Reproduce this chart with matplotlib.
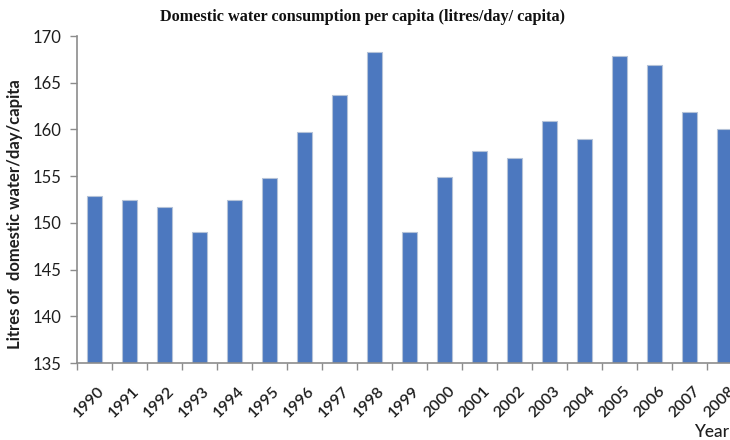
import matplotlib
matplotlib.use("Agg")
import matplotlib.pyplot as plt
import matplotlib.transforms as mtransforms
import numpy as np

years = ["1990", "1991", "1992", "1993", "1994", "1995", "1996", "1997", "1998", "1999",
         "2000", "2001", "2002", "2003", "2004", "2005", "2006", "2007", "2008"]
consumption = [152.9, 152.5, 151.7, 149.0, 152.5, 154.8, 159.7, 163.7, 168.3, 149.0,
               154.9, 157.7, 156.9, 160.9, 159.0, 167.9, 166.9, 161.9, 160.0]
y_ticks = [135, 140, 145, 150, 155, 160, 165, 170]

W, H = 730, 440
fig = plt.figure(figsize=(W / 100, H / 100), dpi=100)
ax = fig.add_axes([77 / W, 77 / H, 665 / W, 327 / H])

x = np.arange(len(years))
ax.bar(x, consumption, width=0.41, bottom=0, color="#4C78BF",
       edgecolor="#B4C2D8", linewidth=0.8, zorder=2)

ax.set_xlim(-0.5, len(years) - 0.5)
ax.set_ylim(135, 170)
ax.set_yticks(y_ticks)

gray = "#8C8C8C"
txt = "#1E1E1E"
for s in ["top", "right"]:
    ax.spines[s].set_visible(False)
for s in ["left", "bottom"]:
    ax.spines[s].set_color(gray)
    ax.spines[s].set_linewidth(1.2)

tick_font = "Lato"
ax.tick_params(axis="y", which="major", direction="out", length=5, width=1, color=gray,
               labelsize=12, labelcolor=txt, pad=6)
for lab in ax.get_yticklabels():
    lab.set_fontfamily(tick_font)

ax.set_xticks(np.arange(len(years) + 1) - 0.5)
ax.set_xticklabels([])
ax.tick_params(axis="x", which="major", direction="out", length=5, width=1, color=gray)
ax.set_xticks(x, minor=True)
ax.set_xticklabels(years, minor=True, rotation=45, ha="right", va="top",
                   rotation_mode="anchor", fontsize=11.5, fontfamily=tick_font,
                   fontweight="semibold", color=txt)
ax.tick_params(axis="x", which="minor", length=0, pad=15)
offset = mtransforms.ScaledTranslation(3 / 100, 0, fig.dpi_scale_trans)
for lab in ax.get_xticklabels(minor=True):
    lab.set_transform(lab.get_transform() + offset)

fig.text(363 / W, 1 - 17 / H, "Domestic water consumption per capita (litres/day/ capita)",
         ha="center", va="center", fontsize=11.7, fontweight="bold",
         fontfamily="Liberation Serif", color="#111111")
fig.text(15 / W, 1 - 214 / H, "Litres of  domestic water/day/capita", rotation=90,
         ha="center", va="center", fontsize=12, fontweight="bold",
         fontfamily=tick_font, color=txt)
fig.text(729 / W, 1 - 432 / H, "Year", ha="right", va="center", fontsize=12.5,
         fontfamily=tick_font, fontweight="medium", color=txt)

fig.savefig("out.png", dpi=100)
